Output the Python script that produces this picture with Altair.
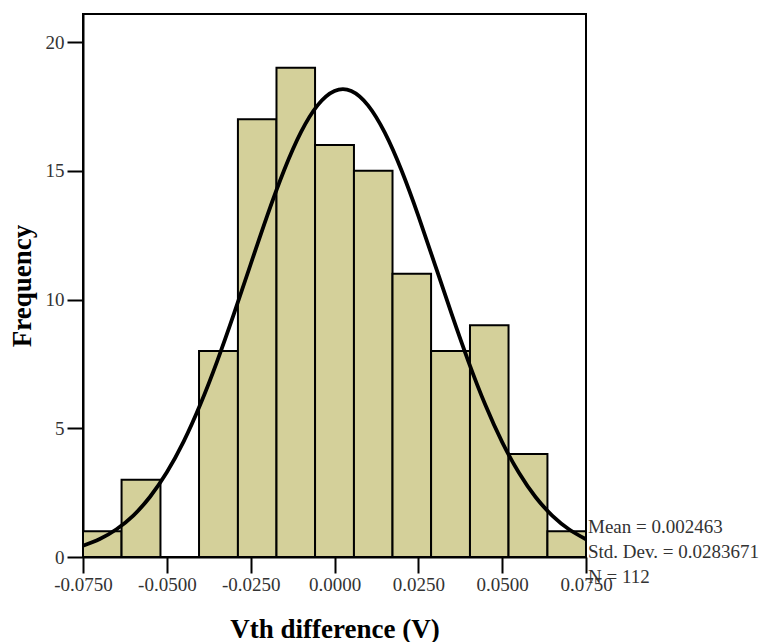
import altair as alt
import pandas as pd

# Histogram bins (edges) and frequencies
bin_left = [-0.0750, -0.0635, -0.0519, -0.0404, -0.0288, -0.0173, -0.0058,
            0.0058, 0.0173, 0.0288, 0.0404, 0.0519, 0.0635]
bin_right = [-0.0635, -0.0519, -0.0404, -0.0288, -0.0173, -0.0058, 0.0058,
             0.0173, 0.0288, 0.0404, 0.0519, 0.0635, 0.0750]
counts = [1, 3, 0, 8, 17, 19, 16, 15, 11, 8, 9, 4, 1]

# Fitted normal curve
curve_x = [-0.075, -0.070, -0.065, -0.060, -0.055, -0.050, -0.045, -0.040,
           -0.035, -0.030, -0.025, -0.020, -0.015, -0.010, -0.005, 0.000,
           0.005, 0.010, 0.015, 0.020, 0.025, 0.030, 0.035, 0.040, 0.045,
           0.050, 0.055, 0.060, 0.065, 0.070, 0.075]
curve_y = [0.44, 0.70, 1.08, 1.61, 2.34, 3.29, 4.48, 5.93, 7.60, 9.44, 11.37,
           13.28, 15.03, 16.50, 17.55, 18.10, 18.10, 17.54, 16.48, 15.01,
           13.25, 11.34, 9.41, 7.57, 5.90, 4.46, 3.27, 2.32, 1.60, 1.07, 0.69]

stats_lines = ["Mean = 0.002463", "Std. Dev. = 0.0283671", "N = 112"]
x_ticks = [-0.075, -0.05, -0.025, 0.0, 0.025, 0.05, 0.075]
y_ticks = [0, 5, 10, 15, 20]

FONT = "Liberation Serif"
W, H = 503, 543

bars_df = pd.DataFrame({"x0": bin_left, "x1": bin_right, "n": counts})
curve_df = pd.DataFrame({"x": curve_x, "y": curve_y})

xscale = alt.Scale(domain=[-0.075, 0.075], nice=False, zero=False)
yscale = alt.Scale(domain=[0, 21.09], nice=False)

xaxis = alt.Axis(
    values=x_ticks,
    labelExpr="replace(format(datum.value, '.4f'), '\u2212', '-')",
    title="Vth difference (V)",
    grid=False, tickSize=16, tickWidth=2, tickColor="black",
    domainColor="black", domainWidth=2,
    labelFont=FONT, labelFontSize=19, labelColor="#333333", labelPadding=2,
    titleFont=FONT, titleFontSize=27, titleFontWeight="bold", titleColor="black",
    titleX=W / 2, titleY=80, titleBaseline="alphabetic", titleAlign="center",
    labelFlush=False, labelOverlap=False,
)
yaxis = alt.Axis(
    values=y_ticks, title="Frequency",
    grid=False, tickSize=16, tickWidth=2, tickColor="black",
    domainColor="black", domainWidth=2,
    labelFont=FONT, labelFontSize=19, labelColor="#333333", labelPadding=3,
    titleFont=FONT, titleFontSize=27, titleFontWeight="bold", titleColor="black",
    titleX=-61, titleY=H / 2, titleBaseline="middle", titleAlign="center",
    titleAngle=-90,
)

bars = alt.Chart(bars_df).mark_rect(
    fill="#d4d09a", stroke="black", strokeWidth=2
).encode(
    x=alt.X("x0:Q", scale=xscale, axis=xaxis),
    x2="x1:Q",
    y=alt.Y("n:Q", scale=yscale, axis=yaxis),
    y2=alt.datum(0),
)

curve = alt.Chart(curve_df).mark_line(
    color="black", strokeWidth=3.8, interpolate="natural"
).encode(
    x=alt.X("x:Q", scale=xscale),
    y=alt.Y("y:Q", scale=yscale),
)

stat_layers = []
for i, line in enumerate(stats_lines):
    stat_layers.append(
        alt.Chart(pd.DataFrame({"label": [line]})).mark_text(
            align="left", baseline="alphabetic", font=FONT, fontSize=19,
            color="#333333", clip=False
        ).encode(
            x=alt.value(W + 2),
            y=alt.value(519 + 25 * i),
            text="label:N",
        )
    )

chart = alt.layer(bars, curve, *stat_layers).properties(
    width=W, height=H,
    background="white",
    autosize=alt.AutoSizeParams(type="none"),
    padding={"left": 83, "top": 14, "right": 179, "bottom": 85},
).configure_view(
    stroke="black", strokeWidth=2
)

chart.save("out.html", embed_options={"renderer": "svg", "actions": False})
